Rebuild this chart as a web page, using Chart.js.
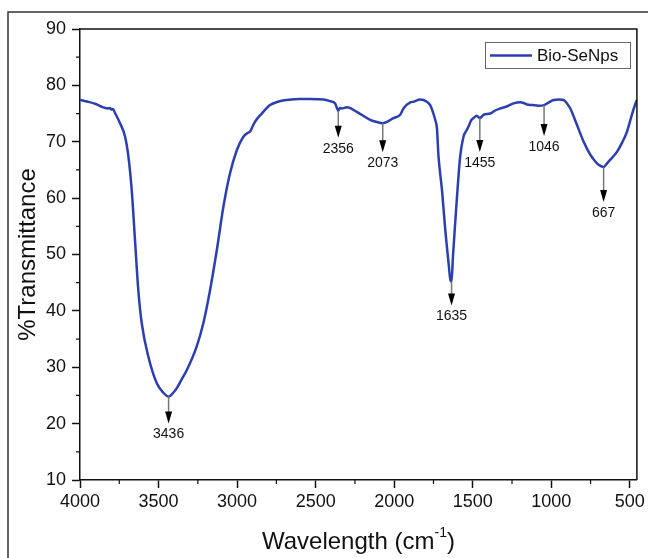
<!DOCTYPE html>
<html>
<head>
<meta charset="utf-8">
<script src="https://cdn.jsdelivr.net/npm/chart.js@4.4.0/dist/chart.umd.min.js"></script>
<style>
  body { margin: 0; background: #fff; }
  #wrap { width: 648px; height: 558px; }
</style>
</head>
<body>
<div id="wrap"><canvas id="myChart" width="648" height="558"></canvas></div>
<script>
// FTIR spectrum
let wavenumber = [4000, 3950, 3900, 3852, 3820, 3810, 3800, 3790, 3777, 3745, 3713, 3692, 3671, 3650, 3629, 3607,
  3565, 3512, 3470, 3436, 3400, 3384, 3350, 3320, 3257, 3215, 3172, 3129, 3087, 3045, 3002, 2960, 2930, 2917, 2900,
  2885, 2843, 2790, 2740, 2684, 2600, 2535, 2450, 2408, 2376, 2362, 2356, 2345, 2334, 2301, 2238, 2153, 2110, 2073,
  2040, 2005, 1962, 1941, 1898, 1877, 1835, 1792, 1771, 1760, 1739, 1728, 1718, 1696, 1675, 1654, 1643, 1635, 1626,
  1612, 1597, 1580, 1559, 1540, 1527, 1510, 1495, 1475, 1455, 1430, 1389, 1360, 1325, 1280, 1240, 1198, 1170, 1155,
  1120, 1081, 1046, 1020, 985, 950, 922, 900, 879, 837, 794, 752, 720, 699, 677, 667, 650, 635, 582, 550, 518, 490,
  470, 455];
let transmittance = [77.4, 77.1, 76.7, 76.1, 75.9, 76.0, 75.7, 75.8, 75.1, 73.3, 70.9, 67.4, 61.5, 52.6, 43.7, 37.8,
  31.9, 27.2, 25.5, 24.8, 25.7, 26.3, 28.0, 29.5, 33.7, 37.8, 43.7, 50.8, 58.5, 64.4, 68.5, 70.9, 71.6, 71.8, 72.8,
  73.6, 75.0, 76.5, 77.1, 77.4, 77.6, 77.6, 77.5, 77.2, 76.8, 75.8, 75.5, 76.0, 75.9, 76.1, 75.3, 73.9, 73.5, 73.3,
  73.6, 74.2, 74.8, 75.9, 77.0, 77.1, 77.5, 77.1, 76.5, 75.8, 73.9, 72.4, 67.4, 61.5, 54.4, 48.5, 45.6, 45.2, 49.6,
  55.5, 61.5, 67.4, 70.9, 72.0, 72.7, 73.8, 74.2, 74.6, 74.2, 74.8, 75.0, 75.5, 75.9, 76.3, 76.8, 77.0, 76.8, 76.6,
  76.5, 76.4, 76.5, 76.9, 77.4, 77.5, 77.4, 76.8, 75.9, 73.0, 70.0, 67.7, 66.5, 65.9, 65.6, 65.5, 66.0, 66.5, 68.2,
  69.8, 71.8, 74.5, 76.3, 77.4];

// marked peaks
let peakWavenumbers = [3436, 2356, 2073, 1635, 1455, 1046, 667];
let peakValues = [24.8, 75.5, 73.3, 45.2, 74.2, 76.5, 65.5];
let peakLabels = ['3436', '2356', '2073', '1635', '1455', '1046', '667'];

let xTicks = [4000, 3500, 3000, 2500, 2000, 1500, 1000, 500];
let yTicks = [10, 20, 30, 40, 50, 60, 70, 80, 90];

const seriesName = 'Bio-SeNps';
const lineColor = '#2b3fae';
const font = 'Liberation Sans, Arial, sans-serif';
const arrowLen = [27, 27, 29, 24, 34, 31, 35];

let points = [];
for (let i = 0; i < wavenumber.length; i += 1) {
  points.push({ x: wavenumber[i], y: transmittance[i] });
}

// frame, minor ticks, legend, arrows and x title
const extras = {
  id: 'extras',
  afterDraw(chart) {
    const c = chart.ctx;
    const a = chart.chartArea;
    const xs = chart.scales.x;
    const ys = chart.scales.y;

    c.save();
    // outer picture frame
    c.strokeStyle = '#333';
    c.lineWidth = 1.5;
    c.strokeRect(8, 12, 700, 700);

    // top and right of plot box
    c.strokeStyle = '#111';
    c.lineWidth = 1.5;
    c.beginPath();
    c.moveTo(a.left, a.top);
    c.lineTo(a.right, a.top);
    c.lineTo(a.right, a.bottom);
    c.stroke();

    // minor ticks
    c.lineWidth = 1.2;
    c.beginPath();
    for (let v = 3750; v > 455; v -= 500) {
      const px = xs.getPixelForValue(v);
      c.moveTo(px, a.bottom);
      c.lineTo(px, a.bottom + 4);
    }
    for (let v = 15; v < 90; v += 10) {
      const py = ys.getPixelForValue(v);
      c.moveTo(a.left, py);
      c.lineTo(a.left - 4, py);
    }
    c.stroke();

    // arrows to peaks
    c.font = '14px ' + font;
    c.textAlign = 'center';
    c.textBaseline = 'middle';
    for (let i = 0; i < peakWavenumbers.length; i += 1) {
      const px = xs.getPixelForValue(peakWavenumbers[i]);
      const py = ys.getPixelForValue(peakValues[i]);
      const tip = py + arrowLen[i];
      c.strokeStyle = '#777';
      c.lineWidth = 1.5;
      c.beginPath();
      c.moveTo(px, py);
      c.lineTo(px, tip - 10);
      c.stroke();
      c.fillStyle = '#000';
      c.beginPath();
      c.moveTo(px - 3.5, tip - 12);
      c.lineTo(px + 3.5, tip - 12);
      c.lineTo(px, tip);
      c.closePath();
      c.fill();
      c.fillStyle = '#111';
      c.fillText(peakLabels[i], px, tip + 11);
    }

    // legend
    c.strokeStyle = '#666';
    c.lineWidth = 1;
    c.strokeRect(485.5, 42.5, 145, 26);
    c.strokeStyle = lineColor;
    c.lineWidth = 2.5;
    c.beginPath();
    c.moveTo(490, 55.5);
    c.lineTo(532, 55.5);
    c.stroke();
    c.fillStyle = '#111';
    c.font = '17px ' + font;
    c.textAlign = 'left';
    c.fillText(seriesName, 537, 56);

    // x axis title with superscript
    const cx = (a.left + a.right) / 2;
    const main = 'Wavelength (cm';
    const sup = '-1';
    c.font = '24px ' + font;
    const w1 = c.measureText(main).width;
    const w3 = c.measureText(')').width;
    c.font = '14px ' + font;
    const w2 = c.measureText(sup).width;
    let x0 = cx - (w1 + w2 + w3) / 2;
    c.textBaseline = 'alphabetic';
    c.font = '24px ' + font;
    c.fillText(main, x0, 549);
    c.font = '14px ' + font;
    c.fillText(sup, x0 + w1, 537);
    c.font = '24px ' + font;
    c.fillText(')', x0 + w1 + w2, 549);
    c.restore();
  }
};

var ctx = document.getElementById('myChart').getContext('2d');
var chart = new Chart(ctx, {
  type: 'line',
  data: {
    datasets: [{
      label: seriesName,
      data: points,
      borderColor: lineColor,
      backgroundColor: lineColor,
      borderWidth: 2.5,
      pointRadius: 0,
      cubicInterpolationMode: 'monotone',
      fill: false
    }]
  },
  options: {
    responsive: false,
    animation: false,
    devicePixelRatio: 1,
    layout: { padding: { top: 29, right: 11, left: 0, bottom: 0 } },
    plugins: {
      legend: { display: false },
      tooltip: { enabled: false }
    },
    scales: {
      x: {
        type: 'linear',
        reverse: true,
        min: 455,
        max: 4000,
        afterBuildTicks: function(s) { s.ticks = xTicks.map(v => ({ value: v })); },
        afterFit: function(s) { s.height = 78; },
        ticks: {
          font: { family: font, size: 18 },
          color: '#111',
          padding: 3,
          maxRotation: 0,
          autoSkip: false,
          callback: function(v) { return String(v); }
        },
        grid: { drawOnChartArea: false, tickLength: 8, color: '#111', tickWidth: 1.5 },
        border: { color: '#111', width: 1.5 }
      },
      y: {
        min: 10,
        max: 90,
        afterBuildTicks: function(s) { s.ticks = yTicks.map(v => ({ value: v })); },
        afterFit: function(s) { s.width = 80; },
        ticks: {
          font: { family: font, size: 18 },
          color: '#111',
          padding: 6,
          callback: function(v) { return String(v); }
        },
        grid: { drawOnChartArea: false, tickLength: 8, color: '#111', tickWidth: 1.5 },
        border: { color: '#111', width: 1.5 },
        title: {
          display: true,
          text: '%Transmittance',
          font: { family: font, size: 24 },
          color: '#111',
          padding: { top: 14, bottom: 0 }
        }
      }
    }
  },
  plugins: [extras]
});
</script>
</body>
</html>
